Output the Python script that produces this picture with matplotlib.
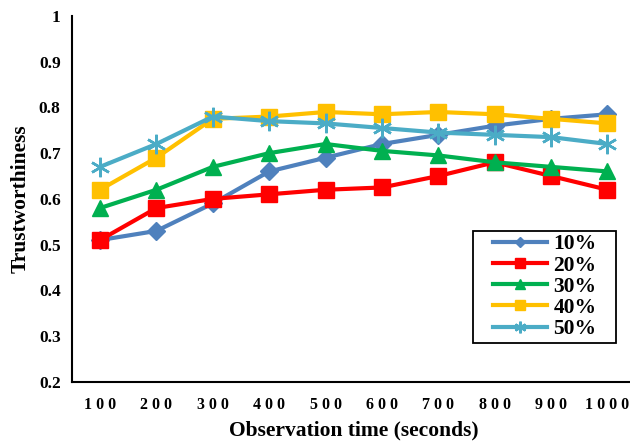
import matplotlib
matplotlib.use("Agg")
import matplotlib.pyplot as plt
from matplotlib.patches import Rectangle
import numpy as np

plt.rcParams['font.family'] = ['Liberation Serif', 'DejaVu Serif']
plt.rcParams['font.weight'] = 'bold'

times = ["1 0 0", "2 0 0", "3 0 0", "4 0 0", "5 0 0", "6 0 0", "7 0 0", "8 0 0", "9 0 0", "1 0 0 0"]
labels = ["10%", "20%", "30%", "40%", "50%"]
s10 = [0.51, 0.53, 0.59, 0.66, 0.69, 0.72, 0.74, 0.76, 0.775, 0.785]
s20 = [0.51, 0.58, 0.60, 0.61, 0.62, 0.625, 0.65, 0.68, 0.65, 0.62]
s30 = [0.58, 0.62, 0.67, 0.70, 0.72, 0.705, 0.695, 0.68, 0.67, 0.66]
s40 = [0.62, 0.69, 0.775, 0.78, 0.79, 0.785, 0.79, 0.785, 0.775, 0.765]
s50 = [0.67, 0.72, 0.78, 0.77, 0.765, 0.755, 0.745, 0.74, 0.735, 0.72]

series = [s10, s20, s30, s40, s50]
colors = ["#4F81BD", "#FF0000", "#00B050", "#FFC000", "#4BACC6"]
markers = ["D", "s", "^", "s", (6, 2, 0)]
msizes = [9, 12, 12, 12, 14]

fig = plt.figure(figsize=(6.3, 4.42), dpi=100)
ax = fig.add_axes([0.114, 0.136, 0.895, 0.828])
x = np.arange(1, len(times) + 1)
for ys, c, m, ms, lab in zip(series, colors, markers, msizes, labels):
    ax.plot(x, ys, color=c, marker=m, markersize=ms, lw=3, label=lab,
            markeredgewidth=1.8 if lab == "50%" else 1, markeredgecolor=c)
ax.set_xlim(0.5, 10.5)
ax.set_ylim(0.2, 1.0)
ax.set_xticks(x)
ax.set_xticklabels(times, fontsize=11.5)
ax.set_yticks(np.arange(0.2, 1.01, 0.1))
ax.set_yticklabels(["0.2", "0.3", "0.4", "0.5", "0.6", "0.7", "0.8", "0.9", "1"], fontsize=12.5)
ax.tick_params(axis='x', length=0, pad=11)
ax.tick_params(axis='y', length=0, pad=8)
for sp in ["top", "right"]:
    ax.spines[sp].set_visible(False)
ax.spines["left"].set_linewidth(1.5)
ax.spines["bottom"].set_linewidth(1.5)
ax.set_xlabel("Observation time (seconds)", fontsize=15.5, fontweight="bold", labelpad=5)
ax.set_ylabel("Trustworthiness", fontsize=15.5, fontweight="bold", labelpad=6)

leg = ax.legend(loc="center", bbox_to_anchor=(0.839, 0.26), fontsize=15.5,
                frameon=False, handlelength=2.5, handletextpad=0.3,
                labelspacing=0.05, borderpad=0.0, markerscale=0.6)
ax.add_patch(Rectangle((0.711, 0.107), 0.255, 0.306, transform=ax.transAxes,
                       fill=False, edgecolor="black", lw=1.3, clip_on=False))
fig.savefig("out.png", dpi=100)
